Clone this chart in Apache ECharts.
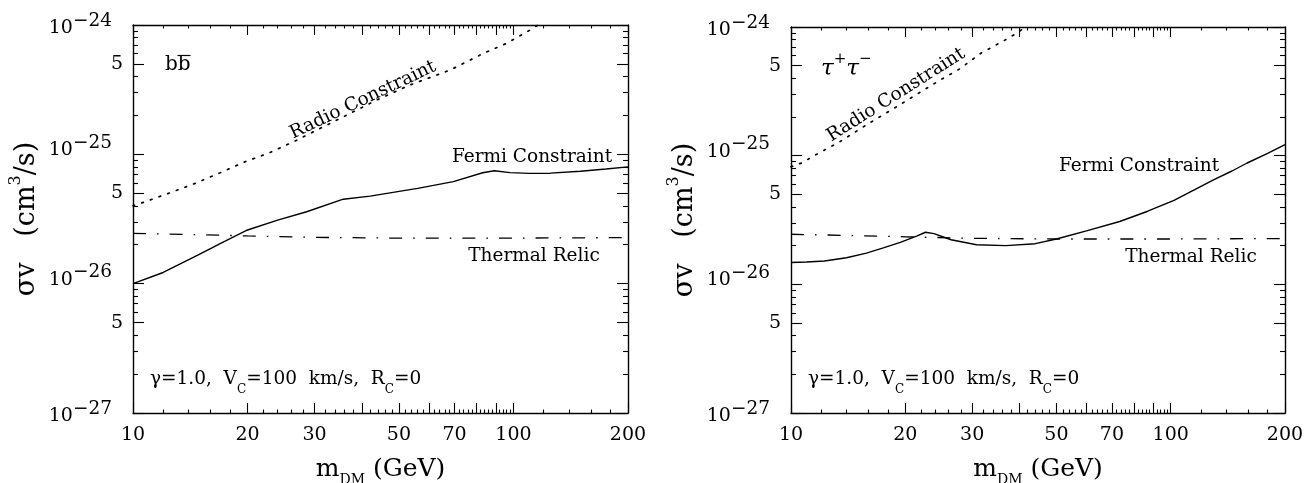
<!DOCTYPE html>
<html><head><meta charset="utf-8">
<script src="https://cdn.jsdelivr.net/npm/echarts@6/dist/echarts.min.js"></script>
<style>html,body{margin:0;padding:0;background:#fff}#c{width:1315px;height:483px}</style>
</head><body><div id="c"></div>
<script>
// ---- data, sigma v in cm^3/s ----
const fermiBbMass  = [10, 12, 14.8, 17, 20, 24, 28.6, 35.7, 42, 56, 69.5, 83, 89, 98, 110, 125, 150, 175, 200];
const fermiBbSigma = [1.0e-26, 1.22e-26, 1.66e-26, 2.05e-26, 2.6e-26, 3.1e-26, 3.6e-26, 4.5e-26, 4.75e-26, 5.45e-26, 6.15e-26, 7.2e-26, 7.46e-26, 7.22e-26, 7.13e-26, 7.15e-26, 7.4e-26, 7.7e-26, 8.0e-26];
const radioBbMass  = [10, 10.77, 12.53, 14.58, 16.96, 19.72, 22.7, 26.4, 30.4, 35.7, 43.7, 53.5, 68.2, 83.4, 96, 110.6, 116];
const radioBbSigma = [4.0e-26, 4.3e-26, 5.05e-26, 5.97e-26, 7.21e-26, 8.77e-26, 1.02e-25, 1.25e-25, 1.54e-25, 1.95e-25, 2.63e-25, 3.44e-25, 4.49e-25, 6.04e-25, 7.22e-25, 9.15e-25, 1.0e-24];
const fermiTauMass  = [10, 11, 12.25, 14, 15.8, 17.5, 19.4, 21.5, 22.6, 23.8, 26.4, 30.8, 36.8, 44, 50, 60, 73.4, 87, 102, 115, 130, 145, 159, 180, 200];
const fermiTauSigma = [1.48e-26, 1.49e-26, 1.52e-26, 1.61e-26, 1.75e-26, 1.92e-26, 2.12e-26, 2.38e-26, 2.54e-26, 2.48e-26, 2.22e-26, 2.03e-26, 2.0e-26, 2.07e-26, 2.25e-26, 2.6e-26, 3.08e-26, 3.7e-26, 4.5e-26, 5.4e-26, 6.5e-26, 7.6e-26, 8.77e-26, 1.04e-25, 1.22e-25];
const radioTauMass  = [10, 10.66, 11.44, 12.28, 13.31, 16.13, 18.57, 21.38, 24.37, 27.8, 31.7, 36.5, 39.1, 41.5];
const radioTauSigma = [8.2e-26, 8.77e-26, 9.89e-26, 1.11e-25, 1.26e-25, 1.8e-25, 2.31e-25, 2.98e-25, 3.78e-25, 4.72e-25, 6.28e-25, 7.87e-25, 8.87e-25, 1.0e-24];
const thermalMass  = [10, 15, 20, 30, 50, 100, 200];
const thermalSigma = [2.45e-26, 2.39e-26, 2.34e-26, 2.28e-26, 2.25e-26, 2.25e-26, 2.27e-26];

// ---- ticks / labels ----
const xMajorTicks = [10, 20, 30, 40, 50, 60, 70, 80, 90, 100, 200];
const xMinorTicks = [12, 14, 16, 18, 22, 24, 26, 28, 32, 34, 36, 38, 42, 44, 46, 48, 52, 54, 56, 58, 62, 64, 66, 68, 72, 74, 76, 78, 82, 84, 86, 88, 92, 94, 96, 98, 120, 140, 160, 180];
const xLabelValues = [10, 20, 30, 50, 70, 100, 200];
const yMajorTicks = [1e-27, 5e-27, 1e-26, 5e-26, 1e-25, 5e-25, 1e-24];
const yMinorTicks = [2e-27, 3e-27, 4e-27, 6e-27, 7e-27, 8e-27, 9e-27, 2e-26, 3e-26, 4e-26, 6e-26, 7e-26, 8e-26, 9e-26, 2e-25, 3e-25, 4e-25, 6e-25, 7e-25, 8e-25, 9e-25];
const yMidDecades = [1e-26, 1e-25];
const yEdgeDecades = [1e-27, 1e-24];
const yFiveLabels = [5e-27, 5e-26, 5e-25];
const yMin = 1e-27, yMax = 1e-24;

// axis works in units of 1e-27 cm^3/s (avoids rounding of tiny numbers)
const SIGMA_UNIT = 1e-27;
const UNIT_EXP = -27;
function u(v) { return Math.round(v / SIGMA_UNIT * 1e6) / 1e6; }
function uList(a) { return a.map(u); }

const FF = 'DejaVu Serif';
const BLACK = '#000';
function pairs(xs, ys) { return xs.map((x, i) => [x, u(ys[i])]); }

const grids = [
  {left: 133, top: 25, width: 495, height: 388, outerBoundsMode: 'none', containLabel: false},
  {left: 791, top: 27, width: 494, height: 386, outerBoundsMode: 'none', containLabel: false}
];

const decRich = {
  b: {fontSize: 19, fontFamily: FF, color: BLACK, lineHeight: 26, verticalAlign: 'bottom'},
  s: {fontSize: 18.5, fontFamily: FF, color: BLACK, lineHeight: 26, verticalAlign: 'top'}
};
function decFmt(v) {
  const e = Math.round(Math.log10(v)) + UNIT_EXP;
  return '{b|10}{s|\u2212' + (-e) + '}';
}

const xAxes = [], yAxes = [];
function xBase(gi, pos) {
  return {type: 'log', logBase: 10, gridIndex: gi, position: pos, min: 10, max: 200,
    splitLine: {show: false}, axisLine: {show: false, onZero: false},
    axisTick: {show: false}, axisLabel: {show: false}};
}
function yBase(gi, pos) {
  return {type: 'log', logBase: 10, gridIndex: gi, position: pos, min: u(yMin), max: u(yMax),
    splitLine: {show: false}, axisLine: {show: false, onZero: false},
    axisTick: {show: false}, axisLabel: {show: false}};
}
const lineStyle = {color: BLACK, width: 1.4};
const tickStyle = {color: BLACK, width: 1.1};

grids.forEach((g, gi) => {
  const xm = xBase(gi, 'bottom');
  xm.axisLine = {show: true, onZero: false, lineStyle: lineStyle};
  xm.axisTick = {show: true, inside: true, length: 10, customValues: xMajorTicks, lineStyle: tickStyle};
  xm.axisLabel = {show: true, customValues: xLabelValues, fontSize: 19, fontFamily: FF, color: BLACK, margin: 13,
    formatter: v => String(Math.round(v))};
  xm.name = '{m|m}{sub|DM}{m| (GeV)}';
  xm.nameLocation = 'middle';
  xm.nameGap = 44;
  xm.nameTextStyle = {fontFamily: FF, color: BLACK, fontSize: 25, rich: {
    m: {fontSize: 25, fontFamily: FF, color: BLACK, lineHeight: 30, verticalAlign: 'top'},
    sub: {fontSize: 14, fontFamily: FF, color: BLACK, lineHeight: 30, verticalAlign: 'bottom'}}};
  xAxes.push(xm);
  const xmi = xBase(gi, 'bottom');
  xmi.axisTick = {show: true, inside: true, length: 3.5, customValues: xMinorTicks, lineStyle: tickStyle};
  xAxes.push(xmi);
  const xt = xBase(gi, 'top');
  xt.axisLine = {show: true, onZero: false, lineStyle: lineStyle};
  xt.axisTick = {show: true, inside: true, length: 10, customValues: xMajorTicks, lineStyle: tickStyle};
  xAxes.push(xt);
  const xti = xBase(gi, 'top');
  xti.axisTick = {show: true, inside: true, length: 3.5, customValues: xMinorTicks, lineStyle: tickStyle};
  xAxes.push(xti);

  const ym = yBase(gi, 'left');
  ym.axisLine = {show: true, onZero: false, lineStyle: lineStyle};
  ym.axisTick = {show: true, inside: true, length: 11, customValues: uList(yMajorTicks), lineStyle: tickStyle};
  ym.axisLabel = {show: true, customValues: uList(yMidDecades), margin: 21, padding: [0, 0, 15, 0],
    formatter: decFmt, rich: decRich};
  ym.name = '{m|\u03c3v   (cm}{sup|3}{m|/s)}';
  ym.nameLocation = 'middle';
  ym.nameGap = 93;
  ym.nameTextStyle = {fontFamily: FF, color: BLACK, fontSize: 27, rich: {
    m: {fontSize: 27, fontFamily: FF, color: BLACK, lineHeight: 32, verticalAlign: 'bottom'},
    sup: {fontSize: 16, fontFamily: FF, color: BLACK, lineHeight: 32, verticalAlign: 'top'}}};
  yAxes.push(ym);
  const ymi = yBase(gi, 'left');
  ymi.axisTick = {show: true, inside: true, length: 5, customValues: uList(yMinorTicks), lineStyle: tickStyle};
  ymi.axisLabel = {show: true, customValues: uList(yFiveLabels), margin: 10, fontSize: 19, fontFamily: FF, color: BLACK,
    formatter: () => '5'};
  yAxes.push(ymi);
  const ye = yBase(gi, 'left');
  ye.axisLabel = {show: true, customValues: uList(yEdgeDecades), margin: 21, formatter: decFmt, rich: decRich};
  yAxes.push(ye);
  const yr = yBase(gi, 'right');
  yr.axisLine = {show: true, onZero: false, lineStyle: lineStyle};
  yr.axisTick = {show: true, inside: true, length: 11, customValues: uList(yMajorTicks), lineStyle: tickStyle};
  yAxes.push(yr);
  const yri = yBase(gi, 'right');
  yri.axisTick = {show: true, inside: true, length: 5, customValues: uList(yMinorTicks), lineStyle: tickStyle};
  yAxes.push(yri);
});

function lineSeries(gi, data, style) {
  return {type: 'line', xAxisIndex: gi * 4, yAxisIndex: gi * 5, data: data, showSymbol: false, symbol: 'none',
    smooth: false, lineStyle: Object.assign({color: BLACK}, style), silent: true, z: 3};
}
const solid = {width: 1.4, type: 'solid'};
const dashDot = {width: 1.3, type: [13, 11, 1.6, 11]};
const dotted = {width: 1.7, type: [1.7, 7.5], cap: 'round'};

const series = [
  lineSeries(0, pairs(fermiBbMass, fermiBbSigma), solid),
  lineSeries(0, pairs(radioBbMass, radioBbSigma), dotted),
  lineSeries(0, pairs(thermalMass, thermalSigma), dashDot),
  lineSeries(1, pairs(fermiTauMass, fermiTauSigma), solid),
  lineSeries(1, pairs(radioTauMass, radioTauSigma), dotted),
  lineSeries(1, pairs(thermalMass, thermalSigma), dashDot)
];

function txt(x, y, text, size, align, rot, rich) {
  const st = {text: text, fontFamily: FF, fontSize: size, fill: BLACK, align: align || 'center', verticalAlign: 'middle'};
  if (rich) st.rich = rich;
  return {type: 'text', x: x, y: y, rotation: rot || 0, style: st, z: 10, silent: true};
}
const paramRich = {
  n: {fontSize: 18.5, fontFamily: FF, fill: BLACK, color: BLACK, lineHeight: 26, verticalAlign: 'top'},
  c: {fontSize: 12, fontFamily: FF, fill: BLACK, color: BLACK, lineHeight: 26, verticalAlign: 'bottom'}
};
const tauRich = {
  t: {fontSize: 23, fontFamily: FF, fontStyle: 'italic', fill: BLACK, color: BLACK, lineHeight: 29, verticalAlign: 'bottom'},
  p: {fontSize: 15, fontFamily: FF, fill: BLACK, color: BLACK, lineHeight: 29, verticalAlign: 'top'}
};
const paramText = '{n|\u03b3=1.0,  V}{c|C}{n|=100  km/s,  R}{c|C}{n|=0}';

const graphic = [
  txt(165, 65, 'bb', 20, 'left'),
  {type: 'line', shape: {x1: 177.5, y1: 55.5, x2: 190.5, y2: 55.5}, style: {stroke: BLACK, lineWidth: 1.2}, z: 10, silent: true},
  txt(363, 100, 'Radio Constraint', 18.5, 'center', 0.445),
  txt(532, 157, 'Fermi Constraint', 18.5),
  txt(534, 256, 'Thermal Relic', 18.5),
  txt(150, 383, paramText, 18.5, 'left', 0, paramRich),
  txt(821, 66, '{t|\u03c4}{p|+}{t|\u03c4}{p|\u2212}', 23, 'left', 0, tauRich),
  txt(896, 95, 'Radio Constraint', 18.5, 'center', 0.565),
  txt(1139, 166, 'Fermi Constraint', 18.5),
  txt(1191, 257, 'Thermal Relic', 18.5),
  txt(808, 383, paramText, 18.5, 'left', 0, paramRich)
];

const chart = echarts.init(document.getElementById('c'), null, {renderer: 'canvas'});
chart.setOption({
  animation: false,
  backgroundColor: '#fff',
  grid: grids,
  xAxis: xAxes,
  yAxis: yAxes,
  series: series,
  graphic: graphic
});
</script></body></html>
